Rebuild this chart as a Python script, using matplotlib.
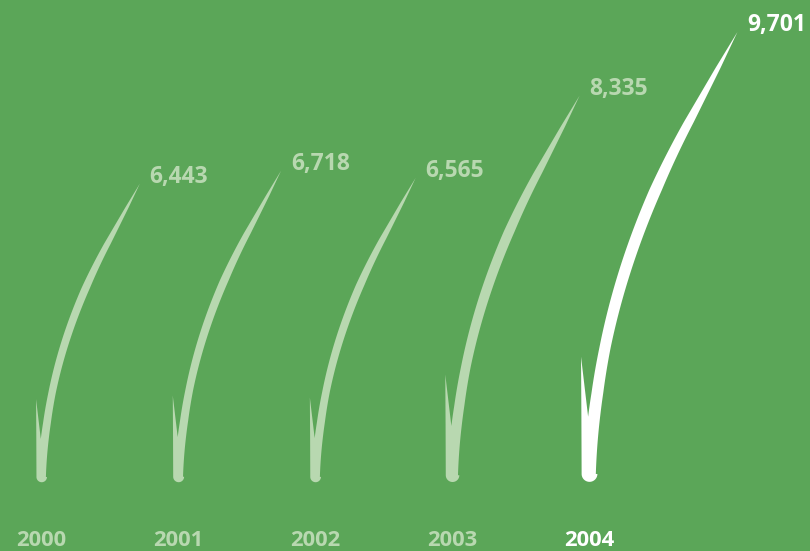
import numpy as np
import matplotlib
matplotlib.use("Agg")
import matplotlib.pyplot as plt
import matplotlib.transforms as mtransforms

# datos
years = ["2000", "2001", "2002", "2003", "2004"]
values = [6443, 6718, 6565, 8335, 9701]

BG = "#5ba658"
PALE = "#b8d8b0"
WHITE = "#ffffff"
colors = [PALE, PALE, PALE, PALE, WHITE]

plt.rcParams["font.family"] = ["Open Sans", "DejaVu Sans"]

# ancho (mitad) de la hoja, altura 1, en proporcion de pixeles
hw_u = [0.0, 0.15, 0.3, 0.5, 0.65, 0.8, 0.92, 1.0]
hw_v = [0.0135, 0.0133, 0.0125, 0.0135, 0.014, 0.011, 0.0055, 0.0]


def centro(u):
    # curva: pendiente crece hasta u=0.8 y despues sigue recta
    k = 0.54 / 0.8
    return np.where(u < 0.8, 0.5 * k * u ** 2, 0.216 + 0.54 * (u - 0.8)) + 0.004 * np.minimum(u / 0.2, 1)


def contorno_hoja():
    hw = lambda u: np.interp(u, hw_u, hw_v)

    # punta redonda abajo
    r = 0.0175
    a = np.linspace(np.pi, 2 * np.pi, 30)
    cap_v = 0.0 + r * np.cos(a)
    cap_u = 0.02 + r * np.sin(a)

    # borde derecho hacia arriba
    u_up = np.linspace(0.02, 1.0, 250)
    right_v = centro(u_up) + hw(u_up)

    # borde izquierdo hacia abajo hasta la muesca
    u_dn = np.linspace(1.0, 0.147, 200)
    left_v = centro(u_dn) - hw(u_dn)

    # pincho izquierdo
    spike_v = np.array([-0.0188, -0.0180, -0.0175])
    spike_u = np.array([0.28, 0.15, 0.02])

    vv = np.concatenate([cap_v, right_v, left_v, spike_v])
    uu = np.concatenate([cap_u, u_up, u_dn, spike_u])
    return vv, uu


fig = plt.figure(figsize=(8.1, 5.51), dpi=100, facecolor=BG)
ax = fig.add_axes([0, 0, 1, 1])
ax.set_facecolor(BG)

xmin, xmax = -0.3045, 5.610
ymin, ymax = -1463, 10389
ax.set_xlim(xmin, xmax)
ax.set_ylim(ymin, ymax)
ax.axis("off")

# pixeles por unidad en cada eje
px_x = 810 / (xmax - xmin)
px_y = 551 / (ymax - ymin)

vv, uu = contorno_hoja()
for i, (val, col) in enumerate(zip(values, colors)):
    xs = i + vv * val * px_y / px_x
    ys = uu * val
    ax.fill(xs, ys, color=col, lw=0)

    tip_x = i + vv[np.argmax(uu)] * val * px_y / px_x
    ax.annotate(f"{val:,}", (tip_x, val), xytext=(7.0, 0.5),
                textcoords="offset points", ha="left", va="baseline",
                fontsize=16.5, fontweight="bold", color=col)

trans = mtransforms.blended_transform_factory(ax.transData, ax.transAxes)
for i, (yr, col) in enumerate(zip(years, colors)):
    ax.text(i, 0.0096, yr, transform=trans, ha="center", va="baseline",
            fontsize=15.8, fontweight="bold", color=col)

fig.savefig("out.png", dpi=100, facecolor=BG)
